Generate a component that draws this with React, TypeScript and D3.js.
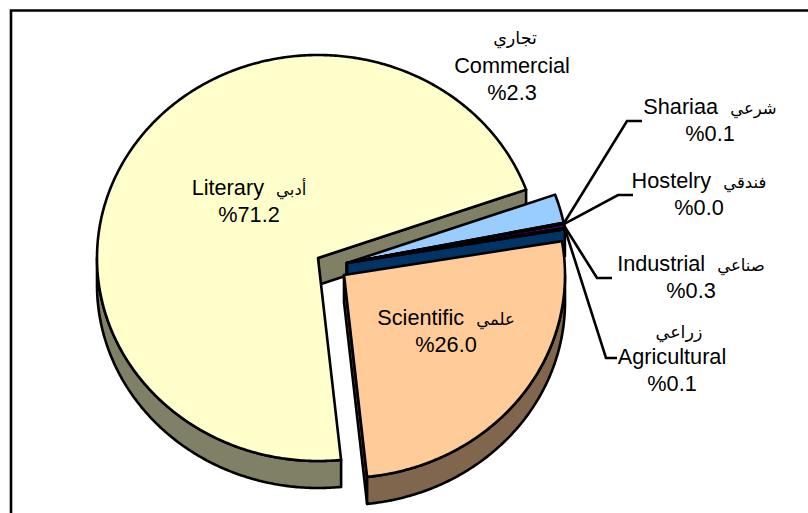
import React from "react";
import * as d3 from "d3";

const categories = ["Literary", "Commercial", "Shariaa", "Hostelry", "Industrial", "Agricultural", "Scientific"];
const arabicNames = ["أدبي", "تجاري", "شرعي", "فندقي", "صناعي", "زراعي", "علمي"];
const shares = [71.2, 2.3, 0.1, 0.0, 0.3, 0.1, 26.0];
const topColors = ["#FFFFCC", "#99CCFF", "#339999", "#CCFFFF", "#800080", "#003366", "#FFCC99"];
const wallColors = ["#808066", "#4D6680", "#1A4D4D", "#668080", "#400040", "#003366", "#80664D"];
const apexX = [318, 347, 347, 347, 347, 347, 344];
const apexY = [258, 263, 263, 263, 263, 263, 275];

const RX = 221, RY = 203, DEPTH = 27;
const START = (174 * Math.PI) / 180;

const pie = d3.pie<number>().sort(null).startAngle(START).endAngle(START + 2 * Math.PI);
const arcs = pie(shares);

type P = [number, number];
const onRim = (i: number, a: number, dy = 0): P => [apexX[i] + RX * Math.sin(a), apexY[i] - RY * Math.cos(a) + dy];
const line = d3.line<P>();
const rim = (i: number, a0: number, a1: number, dy = 0): P[] => {
  const n = Math.max(2, Math.ceil(Math.abs(a1 - a0) / 0.01));
  return d3.range(n + 1).map((k) => onRim(i, a0 + ((a1 - a0) * k) / n, dy));
};

// parts of the rim that face the viewer: 90deg..270deg
const facing = (a0: number, a1: number): P | null => {
  const tau = 2 * Math.PI;
  const lo = Math.PI / 2, hi = (3 * Math.PI) / 2;
  for (const shift of [0, tau]) {
    const s = Math.max(a0, lo + shift), e = Math.min(a1, hi + shift);
    if (e > s) return [s, e];
  }
  return null;
};

const W = 808, H = 513;

const pct = (i: number) => `%${shares[i].toFixed(1)}`;
const labelX = [249, 512, 710, 699, 691, 672, 446];
const labelY = [195, 44, 114, 188, 271, 338, 325];
const arabicShift = [0, 3, 0, 0, 0, 7, 0];

const leaderElbowX = [0, 0, 627, 618, 597, 606, 0];
const leaderElbowY = [0, 0, 121, 195, 278, 358, 0];
const leaderEndX = [0, 0, 642, 633, 612, 617, 0];

const FONT = "'Liberation Sans', Arial, sans-serif";
const AR_FONT = "'DejaVu Sans', 'Noto Sans', sans-serif";
const FS = 21.7, AR = 16.5;
const SW = 2.6;

function TextBlock({ i }: { i: number }) {
  const x = labelX[i], y = labelY[i];
  const stacked = i === 1 || i === 5;
  const lh = 27;
  if (stacked) {
    return (
      <text x={x} y={y} textAnchor="middle" fontFamily={FONT} fontSize={FS} fill="#000">
        <tspan x={x + arabicShift[i]} fontFamily={AR_FONT} fontSize={AR + 1}>{arabicNames[i]}</tspan>
        <tspan x={x} dy={i === 1 ? 29 : 26}>{categories[i]}</tspan>
        <tspan x={x} dy={lh}>{pct(i)}</tspan>
      </text>
    );
  }
  return (
    <text x={x} y={y} textAnchor="middle" fontFamily={FONT} fontSize={FS} fill="#000">
      <tspan x={x} style={{ unicodeBidi: "isolate" }}>
        {categories[i]}
        {"\u00A0\u00A0"}
        <tspan fontFamily={AR_FONT} fontSize={AR}>{arabicNames[i]}</tspan>
      </tspan>
      <tspan x={x} dy={lh}>{pct(i)}</tspan>
    </text>
  );
}

export default function App() {
  return (
    <svg
      width={W}
      height={H}
      viewBox={`0 0 ${W} ${H}`}
      style={{ position: "fixed", left: 0, top: 0, background: "#fff" }}
    >
      <path d={`M11,${H}V10.5H${W}`} fill="none" stroke="#000" strokeWidth={2.6} />
      {arcs.map((d, i) => {
        const wallEnd = [onRim(i, d.endAngle), onRim(i, d.endAngle, DEPTH), [apexX[i], apexY[i] + DEPTH] as P, [apexX[i], apexY[i]] as P];
        const f = facing(d.startAngle, d.endAngle);
        const outer = f ? [...rim(i, f[0], f[1]), ...rim(i, f[1], f[0], DEPTH)] : null;
        const top: P[] = [[apexX[i], apexY[i]], ...rim(i, d.startAngle, d.endAngle)];
        return (
          <g key={categories[i]} stroke="#000" strokeWidth={SW} strokeLinejoin="round">
            <path d={line(wallEnd)! + "Z"} fill={wallColors[i]} />
            {outer && <path d={line(outer)! + "Z"} fill={wallColors[i]} />}
            <path d={line(top)! + "Z"} fill={topColors[i]} />
          </g>
        );
      })}
      {arcs.map((d, i) => {
        if (!leaderElbowX[i]) return null;
        const mid = (d.startAngle + d.endAngle) / 2;
        const pts: P[] = [onRim(i, mid), [leaderElbowX[i], leaderElbowY[i]], [leaderEndX[i], leaderElbowY[i]]];
        return <path key={i} d={line(pts)!} fill="none" stroke="#000" strokeWidth={SW} />;
      })}
      {categories.map((_, i) => (
        <TextBlock key={i} i={i} />
      ))}
    </svg>
  );
}
